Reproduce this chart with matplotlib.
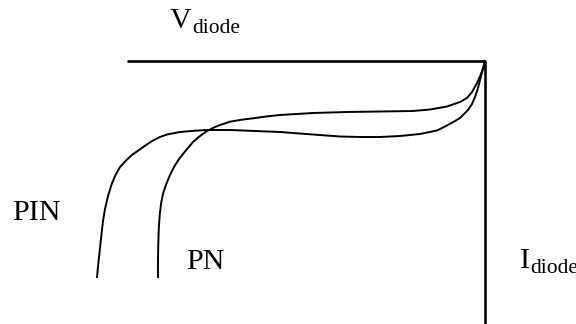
import matplotlib
matplotlib.use("Agg")
import matplotlib.pyplot as plt

# points (pixel frame: x to the right, y downwards)
pin_x = [97, 98.5, 100, 101.5, 103, 105, 108, 111.7, 115.5, 120, 126, 132, 139, 146, 153, 160, 167,
         180, 195, 207, 230, 255, 280, 313, 340, 360, 380, 400, 420, 437, 447, 455, 460, 468, 472,
         475, 478, 480, 482, 485]
pin_y = [277, 262, 248, 234, 221, 209, 196, 184, 175, 167, 160.5, 155, 150, 145, 140.5, 137, 134.5,
         132, 130.7, 130, 130, 131, 132, 134.5, 136.5, 137, 137, 136, 134, 130.5, 125.5, 121, 118,
         110, 104, 97, 88, 80, 72.5, 61]

pn_x = [158, 158, 158.3, 158.8, 159.8, 161.3, 163.5, 166.5, 170, 174, 179, 185, 193, 200, 207, 214,
        220, 230, 241, 253, 266, 280, 313, 347, 380, 413, 430, 447, 460, 467, 472, 477, 481, 483.5,
        485]
pn_y = [277, 260, 243, 228, 214, 202, 192, 183.5, 175, 167, 159, 151.5, 142, 136, 131, 127.5,
        125, 121.7, 119.8, 118.3, 116.5, 115, 113, 112, 111.5, 111, 109.5, 106.5, 102, 98, 92, 83,
        74, 67, 61]

# axes drawn by hand: top line (V) and right line (I)
v_axis_x = [127, 485]
v_axis_y = [61, 61]
i_axis_x = [485, 485]
i_axis_y = [61, 324]

fig = plt.figure(figsize=(5.76, 3.24), dpi=100)
ax = fig.add_axes([0, 0, 1, 1])
ax.set_xlim(0, 576)
ax.set_ylim(324, 0)
ax.axis("off")

ax.plot(v_axis_x, v_axis_y, color="black", lw=1.9, solid_capstyle="butt")
ax.plot(i_axis_x, i_axis_y, color="black", lw=1.9, solid_capstyle="butt")
ax.plot(pin_x, pin_y, color="black", lw=1.4, solid_joinstyle="round")
ax.plot(pn_x, pn_y, color="black", lw=1.4, solid_joinstyle="round")

big = dict(family="Liberation Serif", fontsize=21.6, va="baseline", ha="left")
small = dict(family="Liberation Serif", fontsize=15.5, va="baseline", ha="left")

ax.text(170, 28, "V", **big)
ax.text(192, 33, "diode", **small)
ax.text(520, 268, "I", **big)
ax.text(530, 273, "diode", **small)  # cut at the right edge, as in the original
ax.text(12, 220, "PIN", **big)
ax.text(186, 269, "PN", **big)

fig.savefig("out.png", dpi=100)
